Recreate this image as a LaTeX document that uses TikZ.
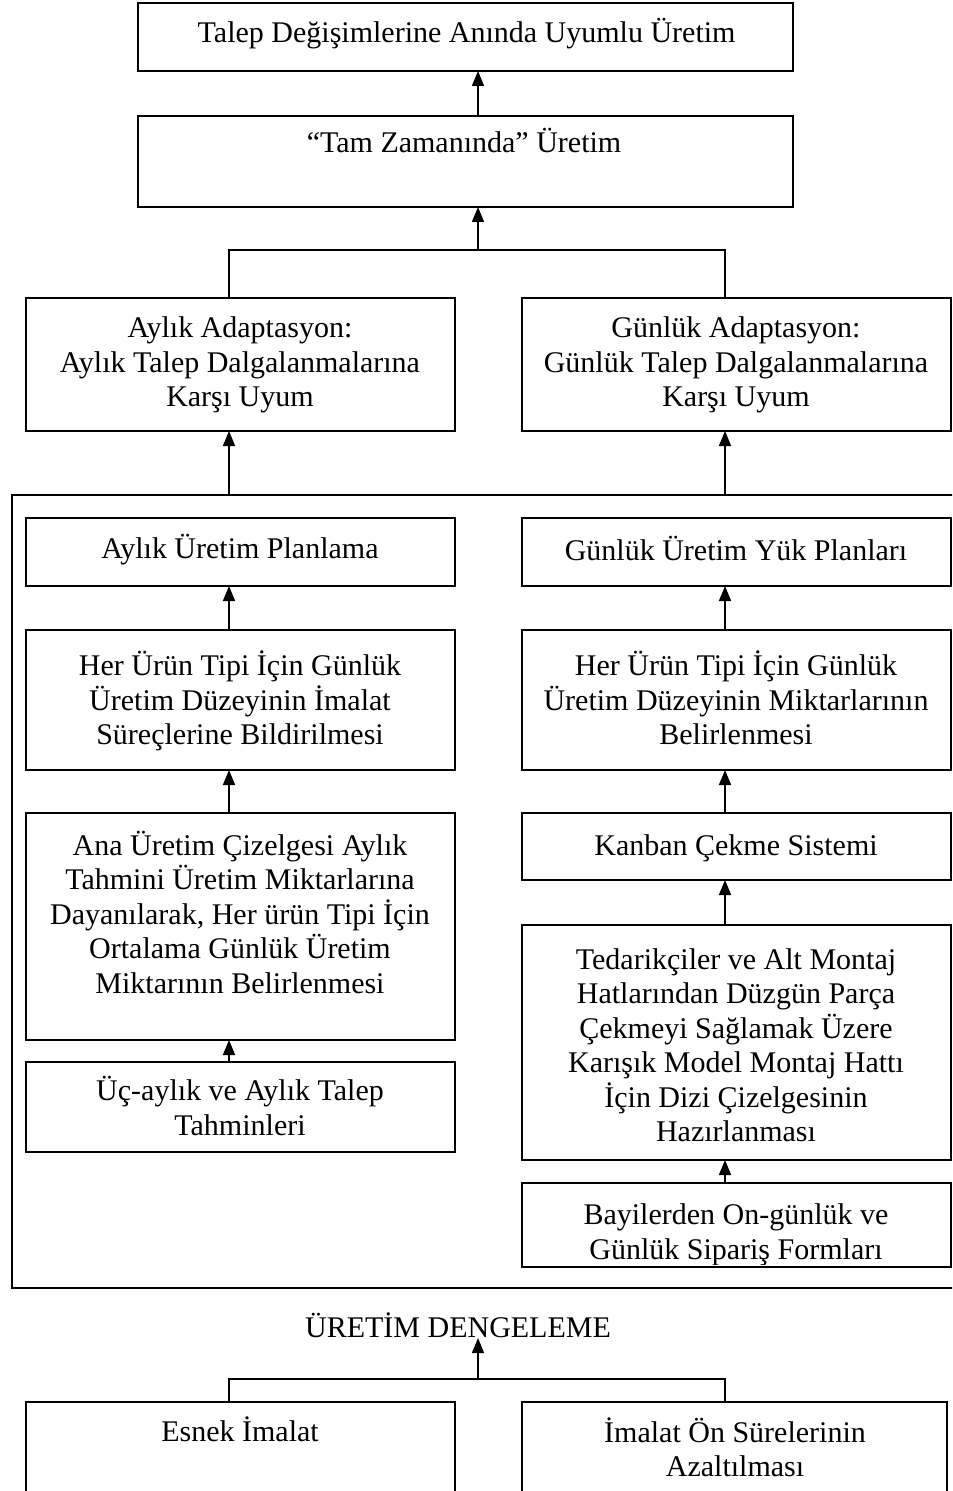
\documentclass[tikz,border=0pt]{standalone}
\usepackage{fontspec}
\setmainfont{Liberation Serif}
\usetikzlibrary{arrows.meta}

% A box given by its corner coordinates (x1,y1) and (x2,y2)
\newcommand\flowbox[6][]{%
  \node[box,#1,minimum width={(#4-#2)*0.4pt},minimum height={(#5-#3)*0.4pt}]
    (#6) at ({(#2+#4)/2},{(#3+#5)/2}) {};}

\tikzset{
  box/.style={draw,line width=0.75pt,outer sep=0pt,inner sep=0pt},
  txt/.style={font=\fontsize{12}{13.8}\selectfont,align=center,inner sep=0pt},
  conn/.style={line width=0.65pt},
  arr/.style={conn,-{Triangle[length=6pt,width=4.8pt]}},
}

\begin{document}
\begin{tikzpicture}[x=0.4pt,y=-0.4pt]
\useasboundingbox (0,0) rectangle (952,1491);
\clip (0,0) rectangle (952,1491);

% column axes for the connectors
\coordinate (colL) at (229,0);
\coordinate (colM) at (478,0);
\coordinate (colR) at (725,0);
\coordinate (br1) at (478,250);
\coordinate (br2) at (478,1379);

% top chain
\flowbox{138}{3}{793}{71}{top}
\node[txt,anchor=east] (top-t) at (736,34) {Talep Değişimlerine Anında Uyumlu Üretim};
\flowbox{138}{116}{793}{207}{jit}
\node[txt] (jit-t) at (464,141) {“Tam Zamanında” Üretim};

\flowbox{26}{298}{455}{431}{adaptL}
\node[txt] (adaptL-t) at (240,365) {Aylık Adaptasyon:\\Aylık Talep Dalgalanmalarına\\Karşı Uyum};
\flowbox{522}{298}{951}{431}{adaptR}
\node[txt] (adaptR-t) at (736,365) {Günlük Adaptasyon:\\Günlük Talep Dalgalanmalarına\\Karşı Uyum};

% large frame holding both planning columns
\flowbox{12}{495}{990}{1288}{frame}

% monthly column
\flowbox{26}{518}{455}{586}{planL}
\node[txt] (planL-t) at (240,550) {Aylık Üretim Planlama};
\flowbox{26}{630}{455}{770}{notifyL}
\node[txt] (notifyL-t) at (240,701) {Her Ürün Tipi İçin Günlük\\Üretim Düzeyinin İmalat\\Süreçlerine Bildirilmesi};
\flowbox{26}{813}{455}{1040}{mpsL}
\node[txt] (mpsL-t) at (240,912) {Ana Üretim Çizelgesi Aylık\\Tahmini Üretim Miktarlarına\\Dayanılarak, Her ürün Tipi İçin\\Ortalama Günlük Üretim\\Miktarının Belirlenmesi};
\flowbox{26}{1062}{455}{1152}{forecastL}
\node[txt] (forecastL-t) at (240,1106) {Üç-aylık ve Aylık Talep\\Tahminleri};

% daily column
\flowbox{522}{518}{951}{586}{planR}
\node[txt] (planR-t) at (736,548) {Günlük Üretim Yük Planları};
\flowbox{522}{630}{951}{770}{qtyR}
\node[txt] (qtyR-t) at (736,698) {Her Ürün Tipi İçin Günlük\\Üretim Düzeyinin Miktarlarının\\Belirlenmesi};
\flowbox{522}{813}{951}{880}{kanbanR}
\node[txt] (kanbanR-t) at (736,848) {Kanban Çekme Sistemi};
\flowbox{522}{925}{951}{1160}{seqR}
\node[txt] (seqR-t) at (736,1045) {Tedarikçiler ve Alt Montaj\\Hatlarından Düzgün Parça\\Çekmeyi Sağlamak Üzere\\Karışık Model Montaj Hattı\\İçin Dizi Çizelgesinin\\Hazırlanması};
\flowbox{522}{1183}{951}{1267}{ordersR}
\begin{scope}
  \clip (522,1183) rectangle (951,1264);
  \node[txt] (ordersR-t) at (736,1235) {Bayilerden On-günlük ve\\Günlük Sipariş Formları};
\end{scope}

% levelling
\node[txt] (deng) at (458,1325) {ÜRETİM DENGELEME};
\flowbox{26}{1402}{455}{1530}{flexL}
\node[txt] (flexL-t) at (240,1429) {Esnek İmalat};
\flowbox{522}{1402}{947}{1530}{leadR}
\node[txt] (leadR-t) at (735,1447) {İmalat Ön Sürelerinin\\Azaltılması};

% connectors
\draw[arr] (jit.north -| colM) -- (top.south -| colM);
\draw[conn] (adaptL.north -| colL) |- (br1) -| (adaptR.north -| colR);
\draw[arr] (br1) -- (jit.south -| colM);
\draw[arr] (frame.north -| colL) -- (adaptL.south -| colL);
\draw[arr] (frame.north -| colR) -- (adaptR.south -| colR);

\draw[arr] (notifyL.north -| colL) -- (planL.south -| colL);
\draw[arr] (mpsL.north -| colL) -- (notifyL.south -| colL);
\draw[arr] (forecastL.north -| colL) -- (mpsL.south -| colL);

\draw[arr] (qtyR.north -| colR) -- (planR.south -| colR);
\draw[arr] (kanbanR.north -| colR) -- (qtyR.south -| colR);
\draw[arr] (seqR.north -| colR) -- (kanbanR.south -| colR);
\draw[arr] (ordersR.north -| colR) -- (seqR.south -| colR);

\draw[conn] (flexL.north -| colL) |- (br2) -| (leadR.north -| colR);
\draw[arr] (br2) -- (deng.south -| colM);
\end{tikzpicture}
\end{document}
